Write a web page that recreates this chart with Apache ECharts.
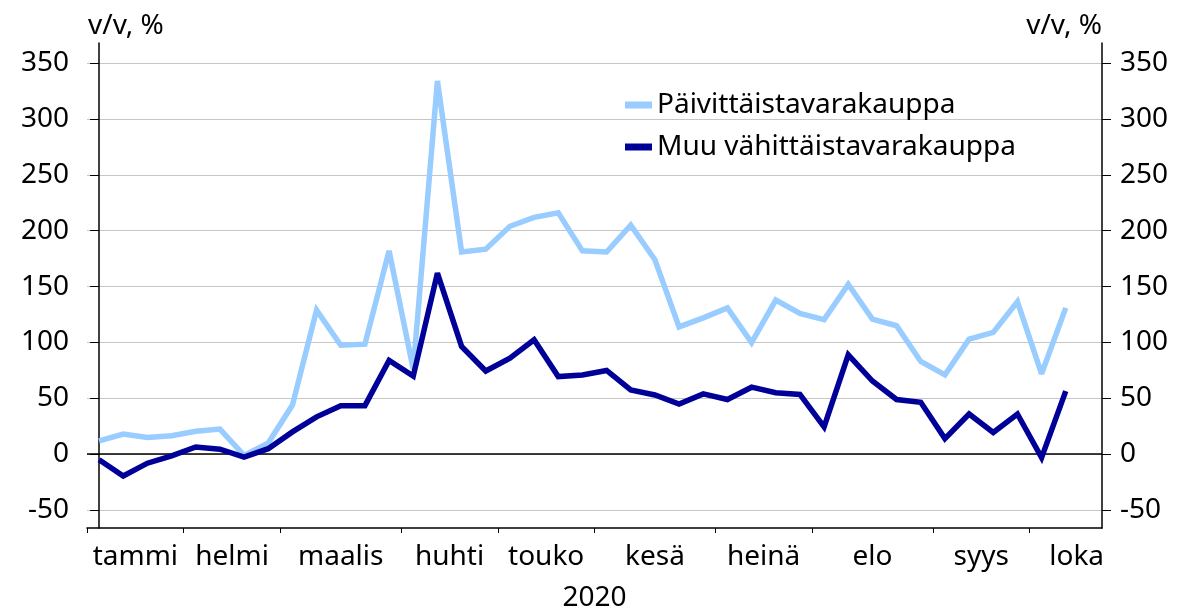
<!DOCTYPE html>
<html>
<head>
<meta charset="utf-8">
<script src="https://cdn.jsdelivr.net/npm/echarts@6/dist/echarts.min.js"></script>
<style>
html,body{margin:0;padding:0;background:#fff;}
#chart{width:1197px;height:611px;}
</style>
</head>
<body>
<div id="chart"></div>
<script>
// Weekly observations, Jan–Oct 2020 (week index 0..40)
const seriesNames = ['Päivittäistavarakauppa', 'Muu vähittäistavarakauppa'];
const groceryValues = [12, 18, 15, 16.5, 20.5, 22.5, -1, 10, 44, 129, 97.5, 98.5, 182, 76, 334, 181, 183.5, 204, 212, 216, 182, 181, 205, 174, 114, 122, 131, 100, 138, 126, 120.5, 152, 121, 115, 83, 71, 103, 109, 136.5, 72, 131];
const otherRetailValues = [-5, -19.5, -8, -1.5, 6.5, 4.5, -2.5, 5, 20, 33.5, 43.5, 43.5, 84, 70, 162, 96.5, 74.5, 86, 102.5, 69.5, 71, 75, 57.5, 53, 45, 54, 49, 60, 55, 53.5, 24.5, 89, 65.5, 49, 46.5, 14, 36, 19.5, 36, -3, 56.5];
const monthLabels = ['tammi', 'helmi', 'maalis', 'huhti', 'touko', 'kesä', 'heinä', 'elo', 'syys', 'loka'];
const monthLabelPositions = [1.5, 5.5, 10, 14.5, 18.5, 23, 27.5, 32, 36.5, 40.45];
const monthBoundaries = [-0.5, 3.5, 7.5, 12.5, 16.5, 20.5, 25.5, 29.5, 34.5, 38.5];
const yTickValues = [-50, 0, 50, 100, 150, 200, 250, 300, 350];
const yearLabel = '2020';
const unitLabel = 'v/v, %';

const FONT = 'Noto Sans';
const toPairs = arr => arr.map((v, i) => [i, v]);

const yAxisCommon = {
  type: 'value',
  min: -66,
  max: 368,
  name: unitLabel,
  nameLocation: 'end',
  nameGap: 3,
  nameMoveOverlap: false,
  axisLine: { show: true, lineStyle: { color: '#000', width: 1.5 } },
  axisTick: { show: true, length: 9, customValues: yTickValues, lineStyle: { color: '#000', width: 1 } },
  axisLabel: { customValues: yTickValues, color: '#000', fontSize: 28, fontFamily: FONT, margin: 18 },
  splitLine: { show: true, lineStyle: { color: '#c6c6c6', width: 1 } }
};

const chart = echarts.init(document.getElementById('chart'), null, { renderer: 'canvas' });
chart.setOption({
  animation: false,
  backgroundColor: '#fff',
  textStyle: { fontFamily: FONT },
  grid: { left: 87, right: 95, top: 43, bottom: 83, containLabel: false, outerBoundsMode: 'none' },
  legend: {
    orient: 'vertical',
    left: 620,
    top: 86,
    itemWidth: 27,
    itemHeight: 7,
    itemGap: 14,
    icon: 'rect',
    textStyle: { fontSize: 28, fontFamily: FONT, color: '#000' },
    data: seriesNames
  },
  xAxis: {
    type: 'value',
    min: -0.5,
    max: 41.5,
    name: yearLabel,
    nameLocation: 'middle',
    nameGap: 56,
    nameMoveOverlap: false,
    nameTextStyle: { fontSize: 28, fontFamily: FONT, color: '#000' },
    axisLine: { show: true, onZero: false, lineStyle: { color: '#000', width: 1.5 } },
    axisTick: { show: true, length: 5, customValues: monthBoundaries, lineStyle: { color: '#000', width: 1 } },
    axisLabel: {
      customValues: monthLabelPositions,
      color: '#000', fontSize: 28, fontFamily: FONT, margin: 15,
      formatter: v => {
        const k = monthLabelPositions.indexOf(v);
        return k >= 0 ? monthLabels[k] : '';
      }
    },
    splitLine: { show: false }
  },
  yAxis: [
    Object.assign({}, yAxisCommon, {
      position: 'left',
      nameTextStyle: { fontSize: 28, fontFamily: FONT, color: '#000', align: 'left', padding: [0, 0, 0, -11] }
    }),
    Object.assign({}, yAxisCommon, {
      position: 'right',
      splitLine: { show: false },
      nameTextStyle: { fontSize: 28, fontFamily: FONT, color: '#000', align: 'right' }
    })
  ],
  series: [
    {
      name: seriesNames[0],
      type: 'line',
      data: toPairs(groceryValues),
      showSymbol: false,
      symbol: 'none',
      color: '#99ccff',
      lineStyle: { color: '#99ccff', width: 5.5, join: 'miter', miterLimit: 2.5, cap: 'butt' },
      z: 3,
      markLine: {
        silent: true,
        z: 1,
        symbol: 'none',
        label: { show: false },
        lineStyle: { color: '#000', width: 1.5, type: 'solid' },
        data: [{ yAxis: 0 }]
      }
    },
    {
      name: seriesNames[1],
      type: 'line',
      data: toPairs(otherRetailValues),
      showSymbol: false,
      symbol: 'none',
      color: '#000099',
      lineStyle: { color: '#000099', width: 5.5, join: 'miter', miterLimit: 2.5, cap: 'butt' },
      z: 4
    }
  ]
});
</script>
</body>
</html>
